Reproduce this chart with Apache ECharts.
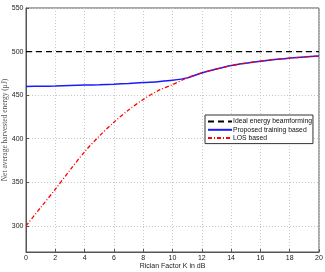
<!DOCTYPE html>
<html><head><meta charset="utf-8">
<script src="https://cdn.jsdelivr.net/npm/echarts@6/dist/echarts.min.js"></script>
<style>html,body{margin:0;padding:0;background:#fff}#c{width:325px;height:272px}</style>
</head><body><div id="c"></div>
<script>
const kDb = [0,1,2,3,4,5,6,7,8,9,10,11,12,13,14,15,16,17,18,19,20];
const ideal = [500,500,500,500,500,500,500,500,500,500,500,500,500,500,500,500,500,500,500,500,500];
const proposed = [460,460.2,460.5,461,461.5,462,462.6,463.4,464.4,465.5,467,469.8,475.5,480,484,486.7,489,491,492.5,493.8,495];
const losBased = [300,321,342,364,385,403,419,433,445,455,462,469.8,475.5,480,484,486.7,489,491,492.5,493.8,495];
const seriesNames = ['Ideal energy beamforming','Proposed training based','LOS based'];
const xLabel = 'Rician Factor K in dB';
const yLabel = 'Net average harvested energy (\u03bcJ)';

const pair = (ys) => kDb.map((x, i) => [x, ys[i]]);
const chart = echarts.init(document.getElementById('c'));
const axisColor = '#555';
const gridLine = {show: true, lineStyle: {color: '#c8c8c8', type: [1, 2], width: 1}};
chart.setOption({
  animation: false,
  backgroundColor: '#fff',
  grid: {left: 26, right: 6, top: 8, bottom: 20, outerBoundsMode: 'none', containLabel: false,
         show: true, borderColor: axisColor, borderWidth: 1, backgroundColor: 'transparent'},
  xAxis: {
    type: 'value', min: 0, max: 20, interval: 2,
    name: xLabel, nameLocation: 'middle', nameGap: 10.5, nameMoveOverlap: false,
    nameTextStyle: {fontFamily: 'Liberation Sans', fontSize: 7, color: '#222'},
    axisLine: {show: true, lineStyle: {color: axisColor}},
    axisTick: {show: true, inside: true, length: 3, lineStyle: {color: axisColor}},
    axisLabel: {fontFamily: 'Liberation Sans', fontSize: 7, color: '#222', margin: 3},
    splitLine: gridLine
  },
  yAxis: {
    type: 'value', min: 270, max: 550, splitNumber: 5,
    name: yLabel, nameLocation: 'middle', nameGap: 17, nameMoveOverlap: false,
    nameTextStyle: {fontFamily: 'Liberation Serif', fontSize: 7.5, color: '#555'},
    axisLine: {show: true, lineStyle: {color: axisColor}},
    axisTick: {show: true, inside: true, length: 3, lineStyle: {color: axisColor}},
    axisLabel: {fontFamily: 'Liberation Sans', fontSize: 7, color: '#222', margin: 2.5, showMinLabel: false},
    splitLine: gridLine
  },
  legend: {
    left: 205, top: 115, orient: 'vertical',
    backgroundColor: '#fff', borderColor: '#333', borderWidth: 1, borderRadius: 0,
    padding: [3, 1, 2, 2], itemGap: 1.3, itemWidth: 24, itemHeight: 7,
    itemStyle: {opacity: 0},
    textStyle: {fontFamily: 'Liberation Sans', fontSize: 6.8, color: '#111', padding: [0, 0, 0, -4]},
    data: seriesNames
  },
  series: [
    {name: seriesNames[0], type: 'line', data: pair(ideal), symbol: 'none', z: 3,
     lineStyle: {color: '#000', width: 1.3, type: [6, 4]}, itemStyle: {color: '#000'}},
    {name: seriesNames[1], type: 'line', data: pair(proposed), symbol: 'none', smooth: 0.3, z: 2,
     lineStyle: {color: '#1a1aff', width: 1.5}, itemStyle: {color: '#1a1aff'}},
    {name: seriesNames[2], type: 'line', data: pair(losBased), symbol: 'none', smooth: 0.3, z: 4,
     lineStyle: {color: '#ff0000', width: 1.3, type: [4, 2, 1, 2]}, itemStyle: {color: '#ff0000'}}
  ]
});
</script></body></html>
